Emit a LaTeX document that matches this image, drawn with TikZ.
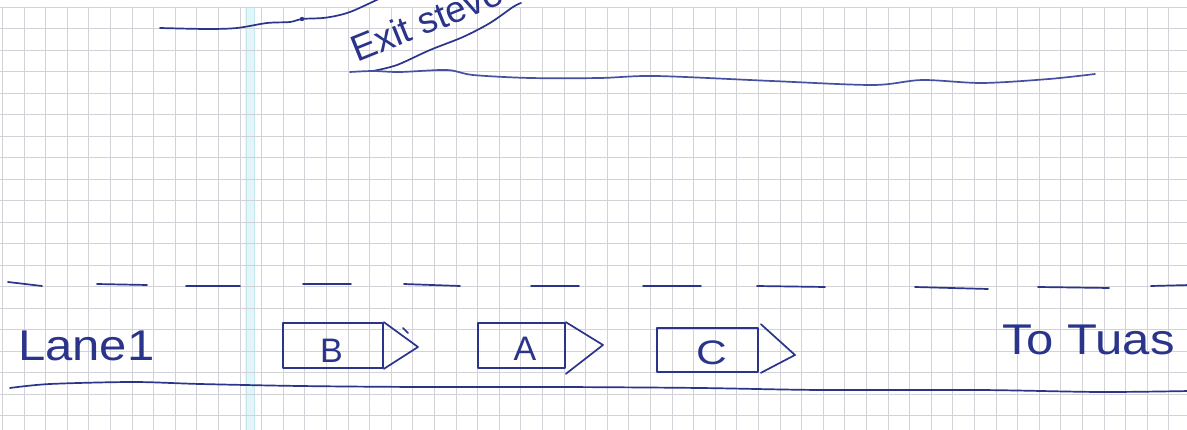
\documentclass[tikz,border=0pt]{standalone}
\usepackage{fontspec}
\setmainfont{Liberation Sans}
\definecolor{ink}{RGB}{42,52,138}
\definecolor{inklight}{RGB}{70,80,160}
\definecolor{gridc}{RGB}{210,210,216}
\definecolor{marginc}{RGB}{226,245,248}
\definecolor{marginl}{RGB}{196,232,238}
\begin{document}
\begin{tikzpicture}[x=1pt,y=-1pt,
  inkline/.style={draw=ink, line width=1.7pt, line cap=round, line join=round},
  car/.style={draw=ink, line width=1.7pt, rectangle, inner sep=0pt, line join=round},
  lbl/.style={text=ink, font=\fontsize{34}{40}\selectfont, inner sep=0pt},
  hand/.style={text=ink, inner sep=0pt, font=\fontsize{43}{50}\selectfont},
  gridline/.style={draw=gridc, line width=0.9pt}]
\useasboundingbox (0,0) rectangle (1187,430);
\clip (0,0) rectangle (1187,430);
\fill[white] (0,0) rectangle (1187,430);
% squared paper
\fill[marginc] (245,7) rectangle (255,430);
\draw[marginl, line width=0.8pt] (246,7) -- (246,430) (254,7) -- (254,430);
\foreach \k in {0,...,54} \draw[gridline] ({2.4+21.6*\k},7) -- ({2.4+21.6*\k},430);
\foreach \k in {0,...,19} \draw[gridline] (0,{7+21.5*\k}) -- (1187,{7+21.5*\k});

% exit ramp
\draw[inkline] plot[smooth] coordinates {(160,28) (207,29) (237,28) (267,23) (290,22) (302,19) (323,18) (340,15) (355,10) (385,-4)};
\fill[ink] (302,19) circle (2.2);
\draw[inkline] plot[smooth] coordinates {(373,71) (397,65) (430,50) (463,37) (490,23) (513,7) (521,3)};
\draw[inkline, draw=inklight] plot[smooth] coordinates {(350,72) (373,71) (400,72) (447,70) (473,75) (530,78) (600,78) (656,76) (772,81) (873,85) (922,80) (982,83) (1049,79) (1095,74)};
\node[hand, anchor=base west, rotate=22, font=\fontsize{37}{43}\selectfont] (exit) at (357,63) {Exit steve};

% lane divider (dashed)
\draw[inkline] (8,282) -- (42,286);
\draw[inkline] (97,284) -- (147,285);
\draw[inkline] (186,286) -- (240,286);
\draw[inkline] (303,284) -- (351,284);
\draw[inkline] (404,284) -- (460,286);
\draw[inkline] (531,286) -- (579,286);
\draw[inkline] (643,286) -- (701,286);
\draw[inkline] (757,286) -- (825,287);
\draw[inkline] (915,287) -- (988,289);
\draw[inkline] (1038,287) -- (1109,288);
\draw[inkline] (1151,286) -- (1190,285);

% road edge
\draw[inkline] plot[smooth] coordinates {(10,388) (50,384) (133,382) (200,384) (300,386) (420,387) (560,387) (700,388) (820,390) (980,390) (1100,392) (1190,391)};

% labels
\node[hand, anchor=base west] (lane) at (18,361) {\scalebox{1.14}[1]{Lane1}};
\node[hand, anchor=base west] (tuas) at (1002,355) {\scalebox{1.14}[1]{To Tuas}};

% cars
\node[car, minimum width=100pt, minimum height=45pt] (B) at (333,345.5) {};
\node[car, minimum width=87pt, minimum height=45pt] (A) at (521.5,345.5) {};
\node[car, minimum width=101pt, minimum height=44pt] (C) at (707.5,350) {};
\coordinate (Btip) at (418,347);
\coordinate (Atip) at (603,345);
\coordinate (Ctip) at (795,355);
\draw[inkline] (B.north east) -- (Btip) -- (B.south east);
\draw[inkline] (403,328) -- (408,333);
\draw[inkline] (A.north east) -- (Atip) -- ([yshift=-5pt]A.south east);
\draw[inkline] ([xshift=2pt,yshift=3pt]C.north east) -- (Ctip) -- ([xshift=2pt]C.south east);
\node[lbl] (Bl) at (331.5,350.5) {B};
\node[lbl] (Al) at (525,348.5) {A};
\node[lbl] (Cl) at (711.5,352.5) {\scalebox{1.25}[1]{C}};
\end{tikzpicture}
\end{document}
